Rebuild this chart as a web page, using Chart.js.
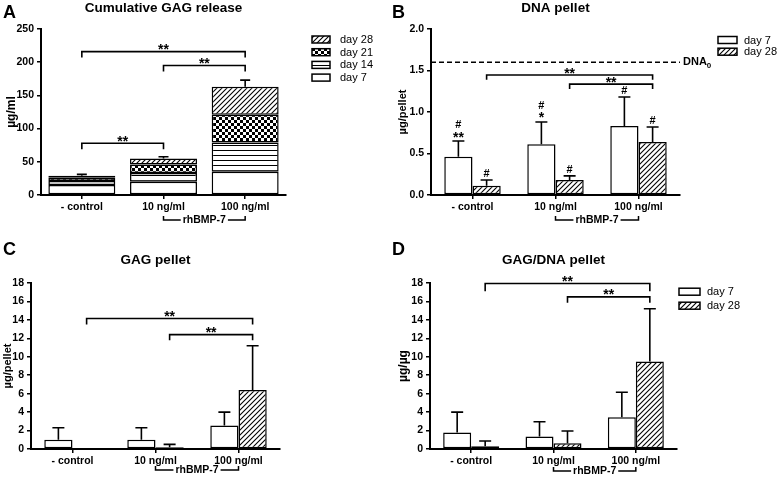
<!DOCTYPE html>
<html>
<head>
<meta charset="utf-8">
<script src="https://cdn.jsdelivr.net/npm/chart.js@4.4.1/dist/chart.umd.min.js"></script>
<style>
body { margin: 0; background: #fff; }
#wrap { position: relative; width: 778px; height: 479px; }
canvas { position: absolute; }
</style>
</head>
<body>
<div id="wrap">
<canvas id="chartA" width="389" height="240" style="left:0;top:0"></canvas>
<canvas id="chartB" width="389" height="240" style="left:389px;top:0"></canvas>
<canvas id="chartC" width="389" height="239" style="left:0;top:240px"></canvas>
<canvas id="chartD" width="389" height="239" style="left:389px;top:240px"></canvas>
</div>
<script>
const groups = ["- control", "10 ng/ml", "100 ng/ml"];

// A - cumulative GAG release (µg/ml), stacked per time point
const gagRelDay7 = [15, 20, 35];
const gagRelDay14 = [6, 13, 44];
const gagRelDay21 = [5, 13, 42];
const gagRelDay28 = [3, 9, 42];
const gagRelErr = [2, 2.5, 10];

// B - DNA pellet (µg/pellet)
const dnaDay7 = [0.46, 0.61, 0.83];
const dnaDay7Err = [0.19, 0.27, 0.35];
const dnaDay28 = [0.11, 0.18, 0.64];
const dnaDay28Err = [0.07, 0.05, 0.18];
const dna0 = 1.6;
const dnaMarks7 = [["**", "#"], ["*", "#"], ["#"]];
const dnaMarks28 = [["#"], ["#"], ["#"]];

// C - GAG pellet (µg/pellet)
const gagDay7 = [1.0, 1.0, 2.55];
const gagDay7Err = [1.3, 1.3, 1.45];
const gagDay28 = [0.1, 0.2, 6.4];
const gagDay28Err = [0, 0.3, 4.8];

// D - GAG/DNA pellet (µg/µg)
const ratioDay7 = [1.8, 1.35, 3.45];
const ratioDay7Err = [2.2, 1.6, 2.7];
const ratioDay28 = [0.3, 0.62, 9.5];
const ratioDay28Err = [0.57, 1.33, 5.7];

// significance brackets: [from, to, level, end level]
const sigA = [[0, 2, 216, 207], [1, 2, 195, 186], [0, 1, 78, 69]];
const sigB = [[0, 2, 1.445, 1.39], [1, 2, 1.336, 1.276]];
const sigC = [[0, 2, 14.15, 13.5], [1, 2, 12.4, 11.8]];
const sigD = [[0, 2, 17.95, 17.1], [1, 2, 16.5, 15.85]];

const FONT = "'Liberation Sans', Arial, sans-serif";
Chart.defaults.font.family = FONT;
Chart.defaults.color = "#000";

function makePattern(kind) {
    const c = document.createElement("canvas");
    const g = c.getContext("2d");
    if (kind === "hatch") {
        c.width = 5; c.height = 5;
        g.fillStyle = "#fff"; g.fillRect(0, 0, 5, 5);
        g.strokeStyle = "#000"; g.lineWidth = 1.1;
        g.beginPath();
        g.moveTo(-1, 6); g.lineTo(6, -1);
        g.moveTo(-1, 1); g.lineTo(1, -1);
        g.moveTo(4, 6); g.lineTo(6, 4);
        g.stroke();
    } else if (kind === "check") {
        c.width = 6; c.height = 6;
        g.fillStyle = "#fff"; g.fillRect(0, 0, 6, 6);
        g.fillStyle = "#000";
        g.fillRect(0, 0, 3, 3); g.fillRect(3, 3, 3, 3);
    } else if (kind === "stripe") {
        c.width = 4; c.height = 5;
        g.fillStyle = "#fff"; g.fillRect(0, 0, 4, 5);
        g.fillStyle = "#000"; g.fillRect(0, 0, 4, 1);
    }
    return g.createPattern(c, "repeat");
}
const hatch = makePattern("hatch");
const check = makePattern("check");
const stripe = makePattern("stripe");

function drawMark(ctx, txt, x, cy) {
    if (txt.indexOf("*") >= 0) {
        ctx.font = "bold 14px " + FONT;
        ctx.fillText(txt, x, cy + 7.5);
    } else {
        ctx.font = "bold 11px " + FONT;
        ctx.fillText(txt, x, cy + 4);
    }
}

const errorBars = {
    id: "errorBars",
    afterDatasetsDraw(chart) {
        const ctx = chart.ctx;
        const y = chart.scales.y;
        const zero = y.getPixelForValue(0);
        ctx.save();
        ctx.strokeStyle = "#000";
        ctx.lineWidth = 1.6;
        chart.data.datasets.forEach((ds, di) => {
            if (!ds.err) return;
            const cap = ds.cap || 12;
            chart.getDatasetMeta(di).data.forEach((el, i) => {
                const e = ds.err[i];
                const top = el.y - (zero - y.getPixelForValue(e));
                if (e > 0) {
                    ctx.beginPath();
                    ctx.moveTo(el.x, el.y);
                    ctx.lineTo(el.x, top);
                    ctx.moveTo(el.x - cap / 2, top);
                    ctx.lineTo(el.x + cap / 2, top);
                    ctx.stroke();
                }
                if (ds.marks) {
                    ctx.fillStyle = "#000";
                    ctx.textAlign = "center";
                    ctx.textBaseline = "alphabetic";
                    ds.marks[i].forEach((m, k) => drawMark(ctx, m, el.x, top - 7 - k * 10));
                }
            });
        });
        ctx.restore();
    }
};

const decor = {
    id: "decor",
    afterDraw(chart, args, o) {
        const ctx = chart.ctx;
        const area = chart.chartArea;
        const xs = chart.scales.x, ys = chart.scales.y;
        ctx.save();
        ctx.fillStyle = "#000";
        ctx.strokeStyle = "#000";
        ctx.textBaseline = "middle";

        ctx.font = "bold 18px " + FONT;
        ctx.textAlign = "left";
        ctx.fillText(o.letter, 3, o.letterY);

        ctx.font = "bold 13.5px " + FONT;
        ctx.textAlign = "center";
        ctx.fillText(o.title, (area.left + area.right) / 2, o.titleY);

        // legend
        if (o.legend) {
            const L = o.legend;
            L.items.forEach((it, k) => {
                const cy = L.y + k * L.dy;
                ctx.fillStyle = chart.data.datasets[it.ds].backgroundColor;
                ctx.fillRect(L.x, cy - L.h / 2, L.w, L.h);
                ctx.lineWidth = 1.5;
                ctx.strokeRect(L.x, cy - L.h / 2, L.w, L.h);
                ctx.fillStyle = "#000";
                ctx.font = "11px " + FONT;
                ctx.textAlign = "left";
                ctx.fillText(it.text, L.tx, cy + 0.5);
            });
        }

        // reference line
        if (o.ref !== undefined) {
            const ry = ys.getPixelForValue(o.ref);
            ctx.lineWidth = 1.6;
            ctx.setLineDash([5, 3]);
            ctx.beginPath();
            ctx.moveTo(area.left, ry);
            ctx.lineTo(area.right, ry);
            ctx.stroke();
            ctx.setLineDash([]);
            ctx.font = "bold 11px " + FONT;
            ctx.textAlign = "left";
            ctx.fillText("DNA", area.right + 3, ry);
            const w = ctx.measureText("DNA").width;
            ctx.font = "bold 8px " + FONT;
            ctx.fillText("0", area.right + 3 + w, ry + 4);
        }

        // significance brackets
        const px = (i) => o.bracketOn === undefined ? xs.getPixelForValue(i) : chart.getDatasetMeta(o.bracketOn).data[i].x;
        ctx.lineWidth = 1.6;
        ctx.textAlign = "center";
        ctx.textBaseline = "alphabetic";
        o.sig.forEach(([a, b, lv, end]) => {
            const x1 = px(a), x2 = px(b);
            const yl = ys.getPixelForValue(lv), ye = ys.getPixelForValue(end);
            ctx.beginPath();
            ctx.moveTo(x1, ye);
            ctx.lineTo(x1, yl);
            ctx.lineTo(x2, yl);
            ctx.lineTo(x2, ye);
            ctx.stroke();
            drawMark(ctx, "**", (x1 + x2) / 2, yl - 5);
        });

        // rhBMP-7 group bracket
        const gy = area.bottom + o.groupY;
        const g1 = xs.getPixelForValue(1), g2 = xs.getPixelForValue(2);
        ctx.font = "bold 10.5px " + FONT;
        ctx.textBaseline = "middle";
        const label = "rhBMP-7";
        const tw = ctx.measureText(label).width;
        const mid = (g1 + g2) / 2;
        ctx.fillText(label, mid, gy);
        ctx.lineWidth = 1.5;
        ctx.beginPath();
        ctx.moveTo(g1, gy - 4);
        ctx.lineTo(g1, gy);
        ctx.lineTo(mid - tw / 2 - 2, gy);
        ctx.moveTo(mid + tw / 2 + 2, gy);
        ctx.lineTo(g2, gy);
        ctx.lineTo(g2, gy - 4);
        ctx.stroke();
        ctx.restore();
    }
};

function axes(opt) {
    return {
        x: {
            stacked: !!opt.stacked,
            afterFit: (s) => { s.height = opt.xh; },
            grid: { drawOnChartArea: false, offset: false, color: "#000", lineWidth: 1.5, tickLength: 4 },
            border: { display: true, color: "#000", width: 2 },
            ticks: { font: { size: 10.5, weight: "bold" }, color: "#000", padding: 2 }
        },
        y: {
            stacked: !!opt.stacked,
            min: 0, max: opt.max,
            afterFit: (s) => { s.width = opt.yw; },
            grid: { drawOnChartArea: false, color: "#000", lineWidth: 1.5, tickLength: 4 },
            border: { display: true, color: "#000", width: 2 },
            ticks: {
                stepSize: opt.step, font: { size: 10.5, weight: "bold" }, color: "#000", padding: 3,
                callback: opt.fmt || ((v) => v)
            },
            title: { display: true, text: opt.ytitle, font: { size: opt.ytSize, weight: "bold" }, color: "#000", padding: { top: opt.ytPad } }
        }
    };
}

function barSet(label, data, fill, extra) {
    return Object.assign({
        label: label, data: data, backgroundColor: fill,
        borderColor: "#000", borderWidth: 1.5, borderSkipped: false
    }, extra || {});
}

const common = {
    responsive: false,
    animation: false,
    events: []
};

new Chart(document.getElementById("chartA"), {
    type: "bar",
    data: {
        labels: groups,
        datasets: [
            barSet("day 7", gagRelDay7, "#fff"),
            barSet("day 14", gagRelDay14, stripe),
            barSet("day 21", gagRelDay21, check),
            barSet("day 28", gagRelDay28, hatch, { err: gagRelErr, cap: 10 })
        ]
    },
    options: Object.assign({}, common, {
        layout: { padding: { top: 29, right: 103, left: 0, bottom: 0 } },
        datasets: { bar: { barPercentage: 0.82, categoryPercentage: 1 } },
        scales: axes({ stacked: true, max: 250, step: 50, yw: 41, xh: 45, ytitle: "µg/ml", ytSize: 12, ytPad: 4 }),
        plugins: {
            legend: { display: false }, tooltip: { enabled: false },
            decor: {
                letter: "A", letterY: 13, title: "Cumulative GAG release", titleY: 8,
                legend: { x: 312, y: 39.5, dy: 12.7, w: 18, h: 7, tx: 340,
                    items: [{ ds: 3, text: "day 28" }, { ds: 2, text: "day 21" }, { ds: 1, text: "day 14" }, { ds: 0, text: "day 7" }] },
                sig: sigA, groupY: 25
            }
        }
    }),
    plugins: [errorBars, decor]
});

function pairChart(id, d7, e7, d28, e28, cfg) {
    return new Chart(document.getElementById(id), {
        type: "bar",
        data: {
            labels: groups,
            datasets: [
                barSet("day 7", d7, "#fff", { err: e7, marks: cfg.marks7 }),
                barSet("day 28", d28, hatch, { err: e28, marks: cfg.marks28 })
            ]
        },
        options: Object.assign({}, common, {
            layout: { padding: cfg.pad },
            datasets: { bar: { barPercentage: 1, categoryPercentage: 0.68 } },
            scales: axes(cfg.axes),
            plugins: { legend: { display: false }, tooltip: { enabled: false }, decor: cfg.decor }
        }),
        plugins: [errorBars, decor]
    });
}

pairChart("chartB", dnaDay7, dnaDay7Err, dnaDay28, dnaDay28Err, {
    marks7: dnaMarks7, marks28: dnaMarks28,
    pad: { top: 29, right: 98, left: 0, bottom: 0 },
    axes: { max: 2, step: 0.5, yw: 42, xh: 45, ytitle: "µg/pellet", ytSize: 11, ytPad: 7, fmt: (v) => v.toFixed(1) },
    decor: {
        letter: "B", letterY: 13, title: "DNA pellet", titleY: 8, ref: dna0,
        legend: { x: 329, y: 40, dy: 11.7, w: 19, h: 7, tx: 355,
            items: [{ ds: 0, text: "day 7" }, { ds: 1, text: "day 28" }] },
        sig: sigB, bracketOn: 1, groupY: 25
    }
});

pairChart("chartC", gagDay7, gagDay7Err, gagDay28, gagDay28Err, {
    pad: { top: 43, right: 109, left: 0, bottom: 0 },
    axes: { max: 18, step: 2, yw: 31, xh: 30, ytitle: "µg/pellet", ytSize: 11, ytPad: 1 },
    decor: {
        letter: "C", letterY: 10, title: "GAG pellet", titleY: 20,
        sig: sigC, bracketOn: 1, groupY: 21
    }
});

pairChart("chartD", ratioDay7, ratioDay7Err, ratioDay28, ratioDay28Err, {
    pad: { top: 43, right: 101, left: 0, bottom: 0 },
    axes: { max: 18, step: 2, yw: 41, xh: 30, ytitle: "µg/µg", ytSize: 12, ytPad: 7 },
    decor: {
        letter: "D", letterY: 10, title: "GAG/DNA pellet", titleY: 20,
        legend: { x: 290, y: 51.7, dy: 14, w: 21, h: 7, tx: 318,
            items: [{ ds: 0, text: "day 7" }, { ds: 1, text: "day 28" }] },
        sig: sigD, bracketOn: 1, groupY: 22
    }
});
</script>
</body>
</html>
